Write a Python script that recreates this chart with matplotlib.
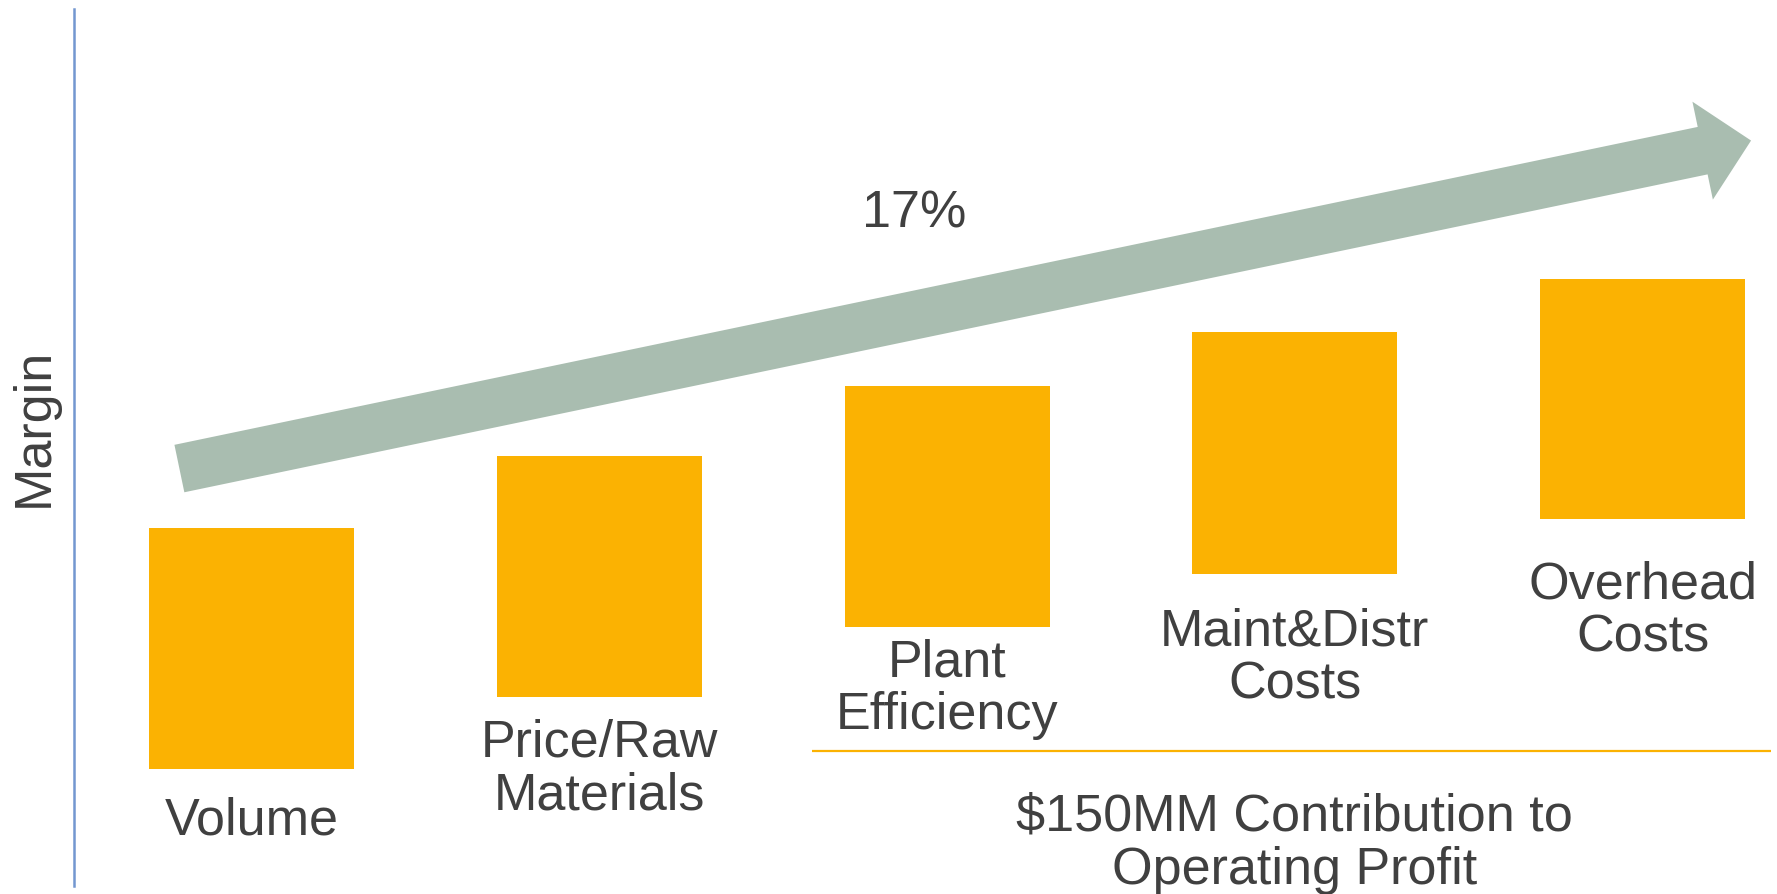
import matplotlib.pyplot as plt
from matplotlib.patches import FancyArrowPatch

# --- data -------------------------------------------------------------
categories = ['Volume', 'Price/Raw\nMaterials', 'Plant\nEfficiency',
              'Maint&Distr\nCosts', 'Overhead\nCosts']
margin_low = [13.3, 21.6, 29.5, 35.6, 41.8]
margin_high = [40.8, 49.0, 57.0, 63.2, 69.2]

trend_label = '17%'
trend_start = (-0.208, 47.6)
trend_end = (4.312, 85.0)

group_label = '$150MM Contribution to\nOperating Profit'
group_span = (1.61, 4.37)
group_level = 15.4

# --- styles / layout --------------------------------------------------
BAR = '#FBB202'
ARROW = '#A9BDB0'
TEXT = '#404040'
AXIS = '#7397D0'
FS = 37.5
LS = 1.1
label_gap_px = [27, 22, 11, 34, 41]

plt.rcParams['font.family'] = ['Liberation Sans', 'DejaVu Sans']

fig = plt.figure(figsize=(17.77, 8.94), dpi=100)
ax = fig.add_axes([74 / 1777, 8 / 894, 1703 / 1777, 877 / 894])
ax.set_xlim(-0.5111, 4.3866)
ax.set_ylim(0, 100)

x = list(range(len(categories)))
heights = [h - l for l, h in zip(margin_low, margin_high)]
ax.bar(x, heights, bottom=margin_low, width=0.5896, color=BAR, zorder=2)

for xi, lo, lab, gap in zip(x, margin_low, categories, label_gap_px):
    ax.annotate(lab, xy=(xi, lo), xytext=(0, -gap), textcoords='offset pixels',
                ha='center', va='top', fontsize=FS, color=TEXT,
                linespacing=LS)

# trend arrow
arrow = FancyArrowPatch(trend_start, trend_end,
                        arrowstyle='simple,head_length=35.6,head_width=72,tail_width=34.9',
                        mutation_scale=1, color=ARROW, lw=0,
                        shrinkA=0, shrinkB=0, zorder=3)
ax.add_patch(arrow)
ax.text(1.904, 75.1, trend_label, ha='center', va='baseline',
        fontsize=FS, color=TEXT)

# group bracket line and label
ax.plot(group_span, [group_level, group_level], color=BAR, lw=1.6,
        solid_capstyle='butt')
ax.annotate(group_label, xy=(3.0, group_level), xytext=(0, -42),
            textcoords='offset pixels', ha='center', va='top',
            fontsize=FS, color=TEXT, linespacing=LS)

# axes cosmetics
for side in ['top', 'right', 'bottom']:
    ax.spines[side].set_visible(False)
ax.spines['left'].set_color(AXIS)
ax.spines['left'].set_linewidth(1.8)
ax.set_xticks([])
ax.set_yticks([])

fig.text(34 / 1777, 0.5224, 'Margin', rotation=90, ha='center', va='center',
         fontsize=FS, color=TEXT)

fig.savefig('out.png', dpi=100)
